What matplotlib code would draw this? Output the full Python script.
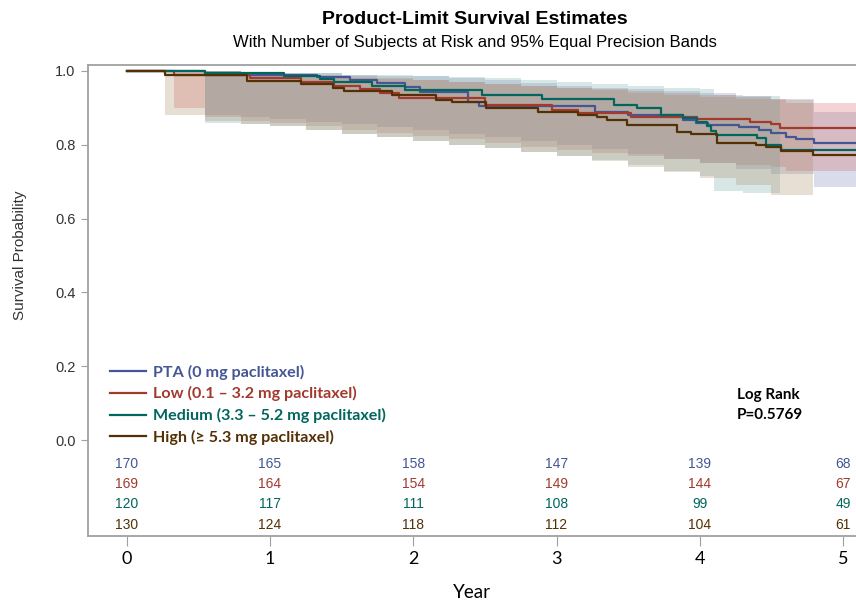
import numpy as np
import matplotlib.pyplot as plt
from matplotlib.lines import Line2D

# group labels and colours
groups = ['PTA (0 mg paclitaxel)', 'Low (0.1 \u2013 3.2 mg paclitaxel)',
          'Medium (3.3 \u2013 5.2 mg paclitaxel)', 'High (\u2265 5.3 mg paclitaxel)']
line_cols = ['#445694', '#A23A2E', '#01665E', '#543005']
fill_cols = ['#6F7EB3', '#D05B5B', '#66A5A0', '#A9865B']

t_end = 5.1   # end of follow-up

# Kaplan-Meier step curves (time in years, survival)
t_pta = [0, 0.55, 1.33, 1.56, 1.75, 1.94, 2.05, 2.38, 2.46, 3.27, 3.5, 3.88, 3.97, 4.06, 4.27, 4.41, 4.5, 4.6, 4.67, 4.8]
s_pta = [1.0, 0.99, 0.984, 0.975, 0.966, 0.957, 0.944, 0.917, 0.906, 0.89, 0.88, 0.867, 0.86, 0.854, 0.849, 0.84, 0.832, 0.822, 0.815, 0.806]
t_low = [0, 0.33, 0.86, 1.22, 1.45, 1.63, 1.77, 1.9, 2.5, 2.97, 3.15, 3.52, 3.98, 4.35, 4.5, 4.56]
s_low = [1.0, 0.99, 0.98, 0.97, 0.96, 0.952, 0.94, 0.927, 0.908, 0.894, 0.886, 0.876, 0.87, 0.862, 0.856, 0.845]
t_med = [0, 0.55, 1.1, 1.35, 1.45, 1.71, 1.94, 2.48, 2.9, 3.4, 3.56, 3.73, 3.88, 3.98, 4.05, 4.08, 4.11, 4.4, 4.46, 4.57]
s_med = [1.0, 0.995, 0.985, 0.977, 0.97, 0.96, 0.947, 0.935, 0.924, 0.908, 0.9, 0.88, 0.872, 0.862, 0.85, 0.838, 0.827, 0.818, 0.80, 0.786]
t_high = [0, 0.27, 0.84, 1.22, 1.44, 1.52, 1.85, 2.16, 2.27, 2.51, 2.87, 3.15, 3.28, 3.35, 3.49, 3.84, 3.94, 4.12, 4.39, 4.46, 4.57, 4.79]
s_high = [1.0, 0.99, 0.973, 0.965, 0.955, 0.945, 0.935, 0.92, 0.916, 0.90, 0.89, 0.88, 0.875, 0.867, 0.854, 0.835, 0.829, 0.805, 0.798, 0.794, 0.783, 0.772]

# 95% equal precision bands
bt_pta = [0.55, 0.8, 1.0, 1.25, 1.5, 1.75, 2.0, 2.25, 2.5, 2.75, 3.0, 3.25, 3.5, 3.75, 4.0, 4.25, 4.5, 4.8, 5.1]
bu_pta = [1.0, 0.997, 0.995, 0.993, 0.99, 0.987, 0.985, 0.98, 0.975, 0.968, 0.96, 0.955, 0.95, 0.945, 0.94, 0.932, 0.925, 0.89, 0.89]
bl_pta = [0.88, 0.875, 0.87, 0.862, 0.855, 0.848, 0.84, 0.83, 0.82, 0.81, 0.80, 0.788, 0.775, 0.762, 0.75, 0.735, 0.72, 0.685, 0.685]
bt_low = [0.33, 0.55, 0.8, 1.0, 1.25, 1.5, 1.75, 2.0, 2.25, 2.5, 2.75, 3.0, 3.25, 3.5, 3.75, 4.0, 4.25, 4.5, 4.6, 5.1]
bu_low = [1.0, 1.0, 0.993, 0.99, 0.985, 0.98, 0.978, 0.975, 0.97, 0.965, 0.96, 0.955, 0.95, 0.945, 0.94, 0.935, 0.93, 0.925, 0.913, 0.913]
bl_low = [0.9, 0.875, 0.865, 0.86, 0.85, 0.84, 0.832, 0.825, 0.815, 0.805, 0.795, 0.785, 0.778, 0.77, 0.76, 0.75, 0.745, 0.74, 0.73, 0.73]
bt_med = [0.55, 0.8, 1.0, 1.25, 1.5, 1.75, 2.0, 2.25, 2.5, 2.75, 3.0, 3.25, 3.5, 3.75, 4.0, 4.1, 4.3, 4.56]
bu_med = [1.0, 0.997, 0.995, 0.993, 0.99, 0.988, 0.985, 0.983, 0.98, 0.975, 0.97, 0.965, 0.96, 0.955, 0.95, 0.935, 0.932, 0.93]
bl_med = [0.86, 0.855, 0.85, 0.84, 0.83, 0.82, 0.81, 0.80, 0.79, 0.78, 0.77, 0.758, 0.745, 0.73, 0.715, 0.675, 0.668, 0.66]
bt_high = [0.27, 0.55, 0.8, 1.0, 1.25, 1.5, 1.75, 2.0, 2.25, 2.5, 2.75, 3.0, 3.25, 3.5, 3.75, 4.0, 4.25, 4.5, 4.79]
bu_high = [1.0, 1.0, 0.993, 0.99, 0.988, 0.985, 0.98, 0.975, 0.97, 0.965, 0.96, 0.955, 0.948, 0.94, 0.935, 0.93, 0.925, 0.92, 0.92]
bl_high = [0.88, 0.865, 0.857, 0.85, 0.84, 0.83, 0.82, 0.81, 0.80, 0.79, 0.78, 0.77, 0.755, 0.74, 0.725, 0.71, 0.69, 0.665, 0.64]

# number at risk
risk_years = [0, 1, 2, 3, 4, 5]
risk_pta = [170, 165, 158, 147, 139, 68]
risk_low = [169, 164, 154, 149, 144, 67]
risk_med = [120, 117, 111, 108, 99, 49]
risk_high = [130, 124, 118, 112, 104, 61]

curves = [(t_pta, s_pta), (t_low, s_low), (t_med, s_med), (t_high, s_high)]
bands = [(bt_pta, bl_pta, bu_pta), (bt_low, bl_low, bu_low),
         (bt_med, bl_med, bu_med), (bt_high, bl_high, bu_high)]
risks = [risk_pta, risk_low, risk_med, risk_high]

fig = plt.figure(figsize=(8.56, 6.06), dpi=100)
ax = fig.add_axes([88/856, 70/606, 768/856, 471/606])

for (bt, bl, bu), fc in zip(bands, fill_cols):
    ax.fill_between(bt, bl, bu, step='post', color=fc, alpha=0.26, lw=0)

for (t, s), lc in zip(curves, line_cols):
    ax.step(t + [t_end], s + [s[-1]], where='post', color=lc, lw=1.6)

# risk table inside the plot
for i, (r, lc) in enumerate(zip(risks, line_cols)):
    for x, n in zip(risk_years, r):
        ax.text(x, -0.064 - 0.055*i, str(n), color=lc, fontsize=10,
                family='Liberation Sans', ha='center', va='center')

ax.set_xlim(-0.27, 5.09)
ax.set_ylim(-0.26, 1.016)
ax.set_yticks(np.arange(0, 1.01, 0.2))
ax.set_yticklabels(['%.1f' % v for v in np.arange(0, 1.01, 0.2)],
                   family='Liberation Sans', fontsize=10.5, color='#333333')
ax.set_xticks(risk_years)
ax.set_xticklabels([str(v) for v in risk_years], family='Lato', fontsize=13)
ax.tick_params(axis='y', direction='out', length=5, color='#A0A0A0', pad=4)
ax.tick_params(axis='x', direction='out', length=7, color='#A0A0A0', pad=4)
for side in ['left', 'top', 'bottom']:
    ax.spines[side].set_color('#A0A0A0')
    ax.spines[side].set_linewidth(1.3)
ax.spines['right'].set_visible(False)

ax.set_ylabel('Survival Probability', family='Liberation Sans', fontsize=11, color='#333333')
ax.yaxis.set_label_coords(-0.08, 0.597)
ax.set_xlabel('Year', family='Lato', fontsize=13.5, labelpad=12)

handles = [Line2D([0], [0], color=c, lw=1.6) for c in line_cols]
leg = ax.legend(handles, groups, loc='upper left', bbox_to_anchor=(0.01, 0.395),
                frameon=False, handlelength=2.2, handletextpad=0.45, labelspacing=0.42,
                labelcolor=line_cols, prop={'family': 'Lato', 'weight': 'bold', 'size': 11.6})

ax.text(4.26, 0.122, 'Log Rank', family='Lato', weight='bold', fontsize=11, va='center')
ax.text(4.26, 0.068, 'P=0.5769', family='Lato', weight='bold', fontsize=11, va='center')

fig.text(475/856, 1 - 19/606, 'Product-Limit Survival Estimates', family='Liberation Sans',
         weight='bold', fontsize=14, ha='center', va='center')
fig.text(475/856, 1 - 43/606, 'With Number of Subjects at Risk and 95% Equal Precision Bands',
         family='Liberation Sans', fontsize=12, ha='center', va='center')

plt.savefig('out.png', dpi=100)
